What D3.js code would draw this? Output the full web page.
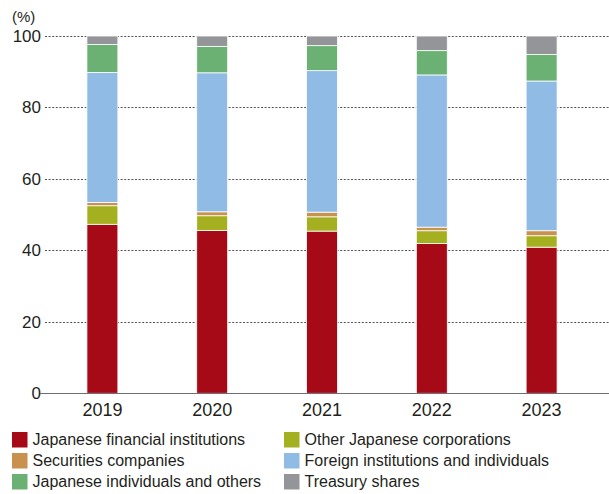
<!DOCTYPE html>
<html>
<head>
<meta charset="utf-8">
<script src="https://cdn.jsdelivr.net/npm/d3@7"></script>
<style>
  html, body { margin: 0; padding: 0; background: #fff; }
  svg { display: block; font-family: "Liberation Sans", Arial, Helvetica, sans-serif; }
</style>
</head>
<body>
<svg id="chart" width="609" height="494"></svg>
<script>
const years = ["2019", "2020", "2021", "2022", "2023"];
const seriesNames = [
  "Japanese financial institutions",
  "Other Japanese corporations",
  "Securities companies",
  "Foreign institutions and individuals",
  "Japanese individuals and others",
  "Treasury shares"
];
const financial   = [47.3, 45.6, 45.4, 41.9, 40.9];
const otherCorp   = [5.2, 4.1, 4.0, 3.6, 3.2];
const securities  = [0.9, 1.1, 1.3, 1.0, 1.4];
const foreign     = [36.4, 38.9, 39.6, 42.6, 41.9];
const individuals = [7.8, 7.4, 7.0, 6.8, 7.4];
const treasury    = [2.4, 2.9, 2.7, 4.1, 5.2];
const yTicks = [0, 20, 40, 60, 80, 100];
const colors = ["#a50a16", "#a4b01f", "#c8924e", "#8fbbe5", "#6bb174", "#939598"];

const seriesValues = [financial, otherCorp, securities, foreign, individuals, treasury];
const rows = years.map((y, i) => {
  const r = { year: y };
  seriesNames.forEach((n, k) => r[n] = seriesValues[k][i]);
  return r;
});

const svg = d3.select("#chart");
const textColor = "#231f20";

const x = d3.scaleBand().domain(years).range([47.5, 596.5]).paddingInner(0.718).paddingOuter(0.359);
const y = d3.scaleLinear().domain([0, 100]).range([393.3, 36]);

// gridlines
svg.append("g").selectAll("line")
  .data(yTicks.filter(t => t > 0))
  .join("line")
  .attr("x1", 45).attr("x2", 609)
  .attr("y1", d => Math.round(y(d)) + 0.5).attr("y2", d => Math.round(y(d)) + 0.5)
  .attr("stroke", "#555").attr("stroke-width", 1.2)
  .attr("stroke-dasharray", "2,1.6");

// tick labels
svg.append("g").selectAll("text")
  .data(yTicks)
  .join("text")
  .attr("x", 41).attr("y", d => y(d) + 6)
  .attr("text-anchor", "end")
  .attr("font-size", 17).attr("fill", textColor)
  .text(d => d);

svg.append("text").attr("x", 12).attr("y", 22)
  .attr("font-size", 15).attr("fill", textColor).text("(%)");

// stacked bars
const stack = d3.stack().keys(seriesNames)(rows);
svg.append("g").selectAll("g")
  .data(stack)
  .join("g")
  .attr("fill", (d, i) => colors[i])
  .selectAll("rect")
  .data(d => d)
  .join("rect")
  .attr("x", d => x(d.data.year))
  .attr("width", x.bandwidth())
  .attr("y", d => y(d[1]))
  .attr("height", d => y(d[0]) - y(d[1]))
  .attr("stroke", "#fff").attr("stroke-width", 0.8);

// zero axis line
svg.append("line").attr("x1", 40).attr("x2", 609)
  .attr("y1", 393.5).attr("y2", 393.5)
  .attr("stroke", "#6d6e71").attr("stroke-width", 1.2);

// x labels
svg.append("g").selectAll("text")
  .data(years)
  .join("text")
  .attr("x", d => x(d) + x.bandwidth() / 2)
  .attr("y", 416)
  .attr("text-anchor", "middle")
  .attr("font-size", 18).attr("fill", textColor)
  .text(d => d);

// legend
const legendPos = [
  [12, 432], [284, 432],
  [12, 453], [284, 453],
  [12, 474], [284, 474]
];
const lg = svg.append("g").selectAll("g")
  .data(seriesNames)
  .join("g")
  .attr("transform", (d, i) => `translate(${legendPos[i][0]},${legendPos[i][1]})`);
lg.append("rect").attr("width", 15.5).attr("height", 15.5).attr("fill", (d, i) => colors[i]);
lg.append("text").attr("x", 20.5).attr("y", 13.3)
  .attr("font-size", 16).attr("fill", textColor).text(d => d);
</script>
</body>
</html>
